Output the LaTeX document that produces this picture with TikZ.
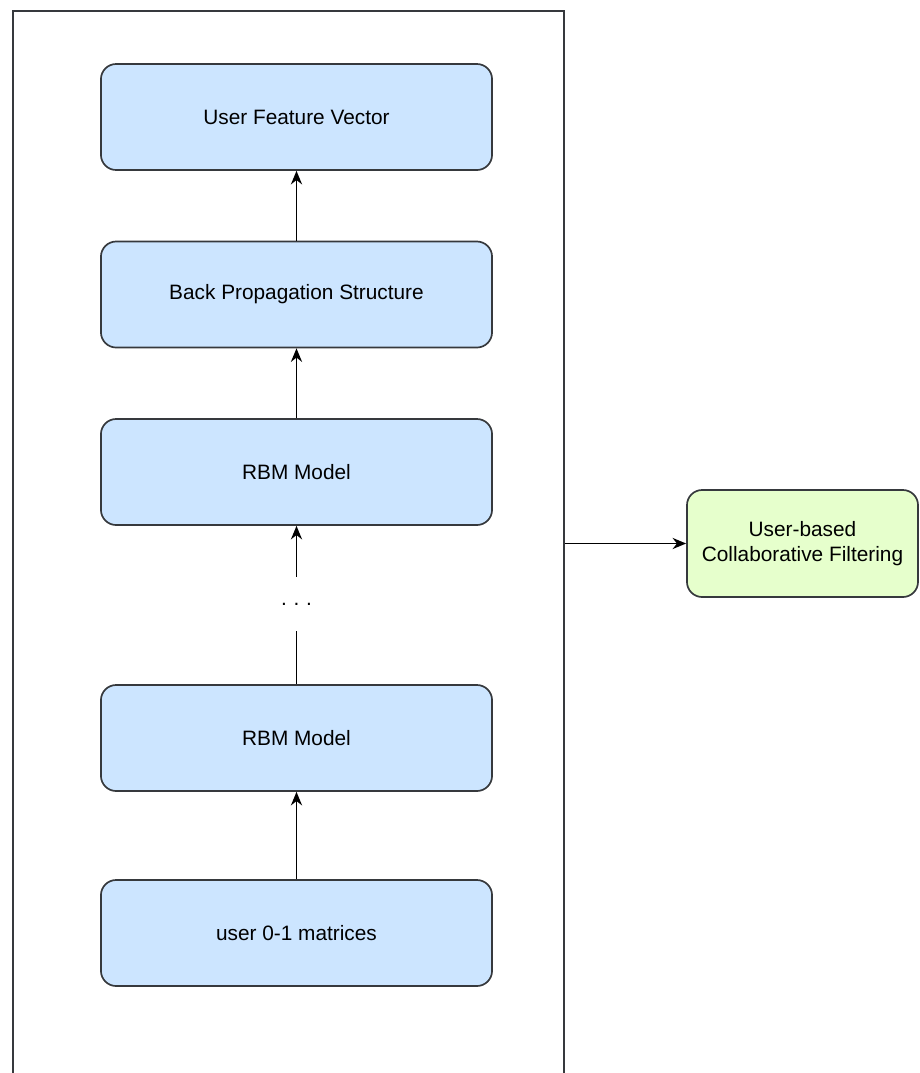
\documentclass[tikz,border=0pt]{standalone}
\usepackage{fontspec}
\setmainfont{Liberation Sans}
\usetikzlibrary{arrows.meta}

\definecolor{boxblue}{HTML}{CCE5FF}
\definecolor{boxgreen}{HTML}{E6FFCC}
\definecolor{edge}{HTML}{36393D}

\tikzset{
  layer/.style={draw=edge, line width=1.2pt, fill=boxblue, rounded corners=0.38cm,
    minimum width=9.775cm, minimum height=2.65cm, align=center,
    font=\fontsize{14.8}{17.5}\selectfont},
  result/.style={layer, fill=boxgreen, minimum width=5.775cm, minimum height=2.675cm},
  link/.style={line width=1.1pt, -{Stealth[length=0.34cm, width=0.28cm]}},
}

\begin{document}
\begin{tikzpicture}[x=0.025cm,y=-0.025cm]
    \useasboundingbox (0,0) rectangle (920,1073);
    \node[draw=edge, line width=1.2pt, minimum width=13.775cm, minimum height=27.5cm,
      anchor=north west] at (12,10) (frame) {};

    \node[layer] at (296.5, 117)   (ufv)  {User Feature Vector};
    \node[layer] at (296.5, 294.5) (bps)  {Back Propagation Structure};
    \node[layer] at (296.5, 472)   (rbm2) {RBM Model};
    \node[minimum height=1.35cm, font=\fontsize{14.8}{17.5}\selectfont]
      at (296.5, 604) (dots) {.\hspace{0.17cm}.\hspace{0.17cm}.};
    \node[layer] at (296.5, 738)   (rbm1) {RBM Model};
    \node[layer] at (296.5, 933)   (mat)  {user 0-1 matrices};
    \node[result] at (802.5, 543.5) (ucf) {User-based\\Collaborative Filtering};

    \draw[link] (mat) -- (rbm1);
    \draw[line width=1.1pt] (rbm1) -- (dots);
    \draw[link] (dots) -- (rbm2);
    \draw[link] (rbm2) -- (bps);
    \draw[link] (bps) -- (ufv);
    \draw[link] (frame.east |- ucf) -- (ucf);
\end{tikzpicture}
\end{document}
